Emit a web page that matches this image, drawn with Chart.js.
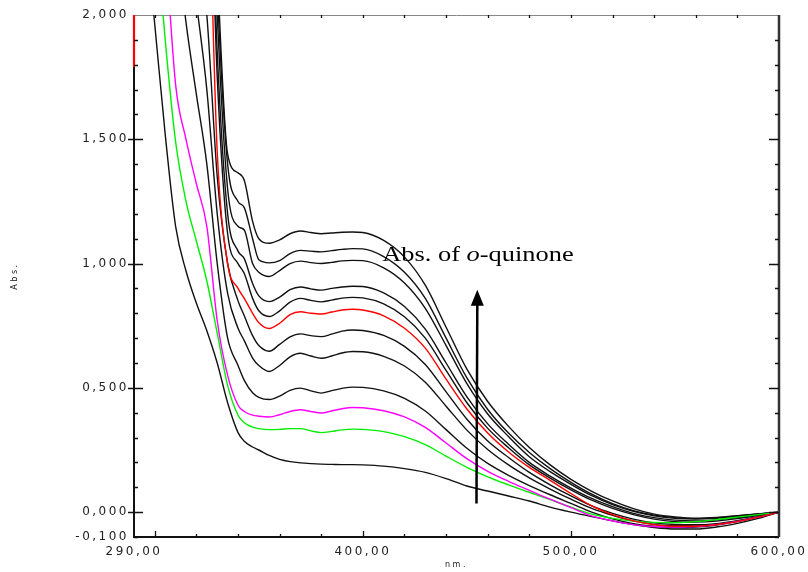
<!DOCTYPE html>
<html>
<head>
<meta charset="utf-8">
<script src="https://cdn.jsdelivr.net/npm/chart.js@4.4.1/dist/chart.umd.min.js"></script>
<style>
html,body{margin:0;padding:0;background:#fff;}
#wrap{width:808px;height:572px;position:relative;}
</style>
</head>
<body>
<div id="wrap"><canvas id="c" width="808" height="572"></canvas></div>
<script>
// wavelengths (nm)
const wavelengths = [295,300,305,310,315,320,325,330,335,340,343,347,350,355,360,365,370,375,380,385,390,395,400,410,420,430,440,450,460,470,480,490,500,510,520,530,540,550,560,570,580,590,600];

// absorbance spectra (bottom to top)
const spec1  = [2.4,1.96,1.52,1.15,0.97,0.84,0.73,0.60,0.44,0.32,0.285,0.262,0.25,0.228,0.212,0.203,0.198,0.195,0.193,0.192,0.191,0.191,0.19,0.185,0.175,0.16,0.135,0.105,0.085,0.065,0.045,0.02,0.0,-0.018,-0.035,-0.05,-0.062,-0.068,-0.068,-0.06,-0.045,-0.025,0.0];
const spec2  = [2.9,2.4,1.9,1.49,1.25,1.09,0.93,0.72,0.51,0.39,0.36,0.342,0.336,0.332,0.333,0.336,0.336,0.327,0.32,0.325,0.331,0.334,0.333,0.324,0.304,0.272,0.225,0.18,0.142,0.11,0.08,0.05,0.02,-0.008,-0.025,-0.036,-0.041,-0.042,-0.038,-0.03,-0.02,-0.01,0.0];
const spec3  = [3.4,2.9,2.3,1.72,1.5,1.32,1.15,0.77,0.55,0.43,0.405,0.39,0.386,0.383,0.392,0.405,0.412,0.405,0.399,0.407,0.416,0.421,0.42,0.408,0.383,0.341,0.278,0.215,0.164,0.124,0.088,0.052,0.018,-0.015,-0.035,-0.05,-0.058,-0.06,-0.058,-0.05,-0.037,-0.02,0.0];
const spec4  = [3.6,3.2,2.8,2.35,1.97,1.68,1.4,1.0,0.7,0.59,0.53,0.48,0.462,0.453,0.467,0.49,0.499,0.488,0.479,0.489,0.498,0.503,0.502,0.488,0.458,0.407,0.332,0.257,0.196,0.148,0.107,0.07,0.035,0.0,-0.027,-0.046,-0.057,-0.062,-0.06,-0.052,-0.038,-0.02,0.0];
const spec5  = [3.9,3.5,3.1,2.7,2.4,2.05,1.7,1.2,0.88,0.74,0.69,0.62,0.59,0.566,0.59,0.625,0.639,0.628,0.619,0.628,0.64,0.646,0.645,0.627,0.588,0.523,0.426,0.33,0.252,0.19,0.138,0.093,0.052,0.015,-0.013,-0.035,-0.049,-0.055,-0.055,-0.049,-0.036,-0.019,0.0];
const spec6  = [4.2,3.8,3.4,3.0,2.7,2.35,2.0,1.35,1.0,0.85,0.79,0.71,0.67,0.647,0.675,0.705,0.717,0.71,0.706,0.716,0.728,0.733,0.731,0.711,0.667,0.594,0.484,0.374,0.286,0.22,0.16,0.11,0.065,0.025,-0.005,-0.028,-0.043,-0.05,-0.051,-0.046,-0.034,-0.018,0.0];
const spec7  = [4.3,4.0,3.7,3.4,3.1,2.9,2.7,1.45,1.0,0.9,0.86,0.8,0.762,0.739,0.76,0.795,0.806,0.8,0.797,0.805,0.813,0.816,0.813,0.79,0.74,0.66,0.535,0.415,0.318,0.242,0.18,0.128,0.075,0.025,-0.01,-0.035,-0.05,-0.057,-0.057,-0.05,-0.038,-0.02,0.0];
const spec8  = [4.4,4.1,3.8,3.5,3.2,3.0,2.9,1.75,1.12,1.0,0.96,0.86,0.81,0.787,0.81,0.845,0.86,0.852,0.846,0.853,0.861,0.864,0.862,0.838,0.786,0.70,0.57,0.44,0.337,0.259,0.19,0.137,0.09,0.048,0.015,-0.01,-0.028,-0.038,-0.04,-0.036,-0.026,-0.013,0.0];
const spec9  = [4.5,4.2,3.9,3.6,3.3,3.1,3.0,1.85,1.2,1.05,1.02,0.92,0.87,0.847,0.865,0.895,0.906,0.898,0.893,0.9,0.906,0.909,0.908,0.882,0.827,0.736,0.60,0.464,0.355,0.273,0.2,0.145,0.097,0.055,0.022,-0.005,-0.022,-0.032,-0.035,-0.031,-0.022,-0.011,0.0];
const spec10 = [4.6,4.3,4.0,3.7,3.4,3.2,3.1,2.0,1.3,1.15,1.135,1.0,0.965,0.948,0.972,1.0,1.01,1.004,1.0,1.005,1.011,1.013,1.012,0.983,0.922,0.82,0.67,0.517,0.395,0.304,0.223,0.163,0.112,0.066,0.03,0.003,-0.015,-0.025,-0.028,-0.025,-0.017,-0.008,0.0];
const spec11 = [4.7,4.4,4.1,3.8,3.5,3.3,3.2,2.1,1.4,1.25,1.225,1.1,1.015,1.003,1.012,1.04,1.053,1.05,1.047,1.052,1.057,1.06,1.059,1.028,0.965,0.86,0.70,0.54,0.413,0.318,0.24,0.175,0.12,0.072,0.034,0.006,-0.012,-0.022,-0.026,-0.023,-0.015,-0.007,0.0];
const spec12 = [4.8,4.5,4.2,3.9,3.6,3.4,3.3,2.2,1.44,1.365,1.335,1.17,1.1,1.082,1.095,1.12,1.131,1.125,1.12,1.123,1.126,1.127,1.125,1.093,1.026,0.913,0.744,0.575,0.445,0.345,0.26,0.19,0.132,0.084,0.045,0.014,-0.008,-0.019,-0.024,-0.021,-0.014,-0.007,0.0];

// red segment at the left edge
const edgeX = [290,290];
const edgeY = [1.79,2.0];

// axis ticks
const xLabelTicks = [290,400,500,600];
const yLabelTicks = [-0.1,0,0.5,1,1.5,2];
const xMajorTicks = [300,400,500];
const xMinorTicks = [320,340,360,380,420,440,460,480,520,540,560,580];
const xTopTicks = [300,320,340,360,380,400,420,440,460,480,500,520,540,560,580];
const yMajorTicks = [0,0.5,1,1.5];
const yMinorTicks = [-0.1,0.1,0.2,0.3,0.4,0.6,0.7,0.8,0.9,1.1,1.2,1.3,1.4,1.6,1.7,1.8,1.9];

// annotation
const noteText = ['Abs. of ', 'o', '-quinone'];
const noteAt = [409.3, 1.01];
const arrowFrom = [454.6, 0.035];
const arrowTo = [455.0, 0.895];

const toPts = arr => arr.map((v,i)=>({x:wavelengths[i], y:v}));
const mk = (arr, color) => ({data: toPts(arr), borderColor: color, borderWidth: 1.4, pointRadius: 0, fill: false, cubicInterpolationMode: 'monotone'});

const datasets = [
  {data: edgeX.map((v,i)=>({x:v,y:edgeY[i]})), borderColor:'#ff0000', borderWidth:2.2, pointRadius:0, clip:false},
  mk(spec7, '#ff0000'),
  mk(spec3, '#ff00ff'),
  mk(spec2, '#00ee00'),
  mk(spec1, '#111111'),
  mk(spec4, '#111111'),
  mk(spec5, '#111111'),
  mk(spec6, '#111111'),
  mk(spec8, '#111111'),
  mk(spec9, '#111111'),
  mk(spec10, '#111111'),
  mk(spec11, '#111111'),
  mk(spec12, '#111111')
];

const decor = {
  id: 'decor',
  beforeDraw(chart){ chart.ctx.letterSpacing = '2.5px'; },
  beforeDatasetsDraw(chart){
    const {ctx, chartArea:a} = chart;
    ctx.save();
    ctx.letterSpacing = '0px';
    ctx.strokeStyle = '#888'; ctx.lineWidth = 1;
    ctx.beginPath(); ctx.moveTo(a.left, a.top+0.5); ctx.lineTo(a.right, a.top+0.5); ctx.stroke();
    ctx.strokeStyle = '#111'; ctx.lineWidth = 2;
    ctx.beginPath(); ctx.moveTo(a.left, a.top); ctx.lineTo(a.left, a.bottom); ctx.lineTo(a.right, a.bottom); ctx.stroke();
    ctx.strokeStyle = '#333'; ctx.lineWidth = 2.5;
    ctx.beginPath(); ctx.moveTo(a.right, a.top); ctx.lineTo(a.right, a.bottom); ctx.stroke();
    ctx.restore();
  },
  afterDatasetsDraw(chart){
    const {ctx, chartArea:a, scales:{x, y}} = chart;
    ctx.save();
    ctx.letterSpacing = '0px';
    ctx.strokeStyle = '#111'; ctx.lineWidth = 1.3;
    ctx.beginPath();
    yMinorTicks.forEach(v=>{ const p = Math.round(y.getPixelForValue(v))+0.5; ctx.moveTo(a.left, p); ctx.lineTo(a.left+4, p); ctx.moveTo(a.right-4, p); ctx.lineTo(a.right, p); });
    yMajorTicks.forEach(v=>{ const p = Math.round(y.getPixelForValue(v))+0.5; ctx.moveTo(a.left-6, p); ctx.lineTo(a.left+9, p); ctx.moveTo(a.right-10, p); ctx.lineTo(a.right, p); });
    xMinorTicks.forEach(v=>{ const p = Math.round(x.getPixelForValue(v))+0.5; ctx.moveTo(p, a.bottom); ctx.lineTo(p, a.bottom-3); });
    xMajorTicks.forEach(v=>{ const p = Math.round(x.getPixelForValue(v))+0.5; ctx.moveTo(p, a.bottom); ctx.lineTo(p, a.bottom-6); });
    xTopTicks.forEach(v=>{ const p = Math.round(x.getPixelForValue(v))+0.5; ctx.moveTo(p, a.top); ctx.lineTo(p, a.top+3); });
    ctx.stroke();

    // arrow
    const x0 = x.getPixelForValue(arrowFrom[0]), y0 = y.getPixelForValue(arrowFrom[1]);
    const x1 = x.getPixelForValue(arrowTo[0]), y1 = y.getPixelForValue(arrowTo[1]);
    ctx.strokeStyle = '#000'; ctx.fillStyle = '#000'; ctx.lineWidth = 2.5;
    ctx.beginPath(); ctx.moveTo(x0, y0); ctx.lineTo(x1, y1 + 14); ctx.stroke();
    ctx.beginPath(); ctx.moveTo(x1, y1); ctx.lineTo(x1 - 6.5, y1 + 16); ctx.lineTo(x1 + 6.5, y1 + 16); ctx.closePath(); ctx.fill();

    // annotation text
    const tx = x.getPixelForValue(noteAt[0]), ty = y.getPixelForValue(noteAt[1]);
    ctx.translate(tx, ty);
    ctx.scale(1.2, 1);
    ctx.textBaseline = 'alphabetic';
    ctx.textAlign = 'left';
    let cx = 0;
    const fonts = ['22px "Liberation Serif"', 'italic 22px "Liberation Serif"', '22px "Liberation Serif"'];
    noteText.forEach((t,i)=>{ ctx.font = fonts[i]; ctx.fillText(t, cx, 0); cx += ctx.measureText(t).width; });
    ctx.restore();
  }
};

new Chart(document.getElementById('c'), {
  type: 'line',
  data: { datasets },
  plugins: [decor],
  options: {
    responsive: false,
    animation: false,
    layout: { padding: { left: 0, top: 15, right: 27, bottom: 0 } },
    plugins: { legend: { display: false }, tooltip: { enabled: false } },
    scales: {
      x: {
        type: 'linear', min: 290, max: 600,
        afterBuildTicks: s => { s.ticks = xLabelTicks.map(v => ({value: v})); },
        afterFit: s => { s.height = 35; },
        grid: { display: false, drawTicks: false },
        border: { display: false },
        ticks: { callback: v => Number(v).toFixed(2).replace('.', ','), font: { family: 'DejaVu Sans', size: 12 }, color: '#222', padding: 8, maxRotation: 0, autoSkip: false },
        title: { display: true, text: 'nm.', font: { family: 'DejaVu Sans', size: 8 }, color: '#222', padding: { top: 0, bottom: 2 } }
      },
      y: {
        type: 'linear', min: -0.1, max: 2.0,
        afterBuildTicks: s => { s.ticks = yLabelTicks.map(v => ({value: v})); },
        afterFit: s => { s.width = 134; },
        grid: { display: false, drawTicks: false },
        border: { display: false },
        ticks: { callback: v => Number(v).toFixed(3).replace('.', ','), font: { family: 'DejaVu Sans', size: 12 }, color: '#222', padding: 5, autoSkip: false },
        title: { display: true, text: 'Abs.', font: { family: 'DejaVu Sans', size: 8 }, color: '#222', padding: { top: 10, bottom: 0 } }
      }
    }
  }
});
</script>
</body>
</html>
